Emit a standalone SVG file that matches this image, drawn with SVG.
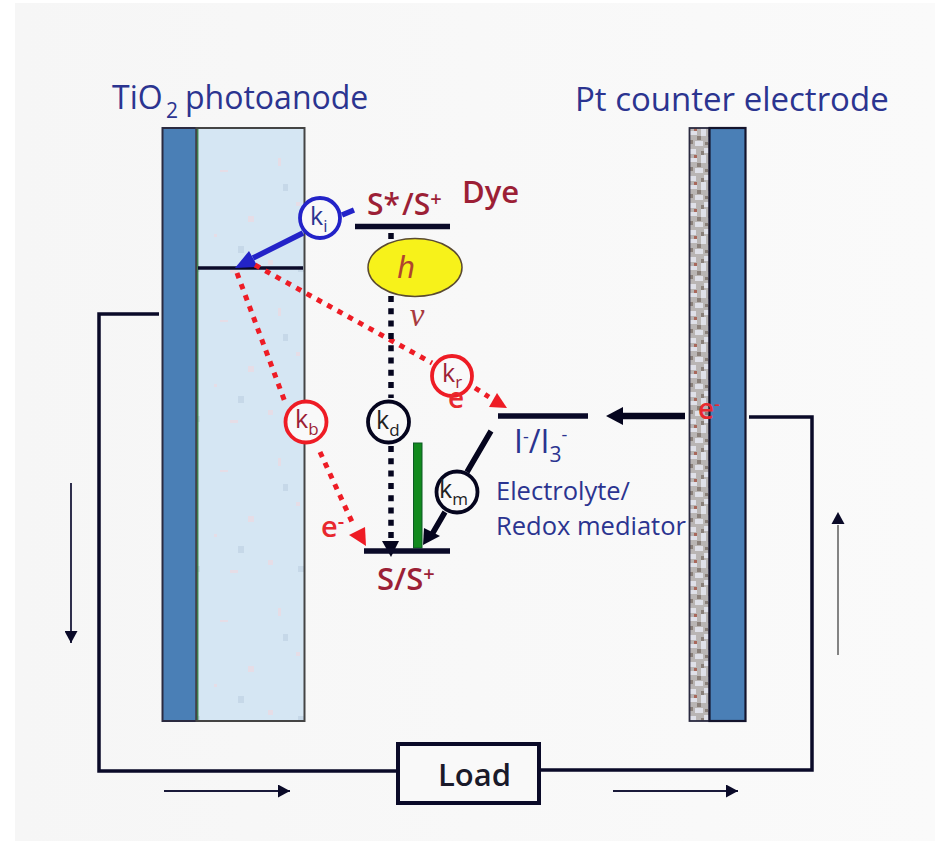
<svg xmlns="http://www.w3.org/2000/svg" width="935" height="842" viewBox="0 0 935 842">
<style>
text{font-family:"Open Sans","Noto Sans","Liberation Sans",sans-serif;font-weight:600}
.blue{fill:#2b3490}.dred{fill:#9c1f36}.red{fill:#e8282e}
.h{font-size:32px;font-weight:500}.lbl{font-size:30px}
.k{font-size:25px;font-weight:400}.sub{font-size:17px}
.bar{stroke:#0a0a28;stroke-width:5.500;fill:none}
.wire{stroke:#0a0a28;stroke-width:3.500;fill:none}
.thin{stroke:#1a1a3a;stroke-width:1.800;fill:none}
.reddot{stroke:#ee1c25;stroke-width:5;stroke-dasharray:5.500 6.300;fill:none}
.blackdot{stroke:#05051e;stroke-width:5.500;stroke-dasharray:6 6.300;fill:none}
.circle{fill:#f9f9f9;stroke-width:3.800}
</style>
<defs>
<linearGradient id="bg"><stop offset="0" stop-color="#f6f6f6"/><stop offset="1" stop-color="#fafafa"/></linearGradient>
<marker id="ar" markerWidth="13" markerHeight="13" refX="12" refY="6.500" orient="auto" markerUnits="userSpaceOnUse"><path d="M0,0L12,6.500L0,13z" fill="#0a0a28"/></marker>
<pattern id="grain" width="27" height="27" patternUnits="userSpaceOnUse" patternTransform="translate(689 128)">
<rect width="27" height="27" fill="#b9b5b4"/>
<path d="M0,3h8v4h-8zM12,0h5v8h-5zM6,13h8v5h-8zM19,9h8v6h-8zM1,21h6v5h-6zM15,20h8v5h-8z" fill="#dfe0e8"/>
<path d="M8,8h4v4h-4zM0,12h4v4h-4zM21,3h4v4h-4zM12,23h3v4h-3zM16,14h3v3h-3z" fill="#8a807a"/>
<path d="M24,18h3v3h-3zM5,0h3v3h-3z" fill="#a8685c"/>
</pattern>
<pattern id="specks" width="104" height="150" patternUnits="userSpaceOnUse">
<rect width="104" height="150" fill="#d5e6f3"/>
<path d="M12,20h8v2h-8zM70,8h3v8h-3zM40,66h6v6h-6zM88,52h4v4h-4zM22,120h8v3h-8zM60,110h5v5h-5zM6,84h3v3h-3z" fill="#e6dde6"/>
<path d="M75,34h5v7h-5zM30,96h6v7h-6zM90,116h6v6h-6z" fill="#c6d8e8"/>
</pattern>
</defs>
<rect width="935" height="842" fill="#fff"/>
<rect x="15" y="3" width="920" height="838" fill="url(#bg)"/>
<g id="photoanode">
<rect x="162.500" y="128" width="34" height="593" fill="#4a7fb6" stroke="#2a2a40" stroke-width="2"/>
<rect x="196.500" y="128" width="108" height="593" fill="url(#specks)" stroke="#444" stroke-width="2"/>
<path d="M197.800,129V720" stroke="#2c7a3c" stroke-width="1.200"/>
<path class="bar" style="stroke-width:3.500" d="M198,268H303"/>
<text class="h blue" x="112" y="109">TiO<tspan x="166" font-size="21" dy="9">2</tspan><tspan x="185" dy="-9">photoanode</tspan></text>
</g>
<g id="counter-electrode">
<rect x="689.500" y="128" width="20" height="593" fill="url(#grain)" stroke="#2a2a40" stroke-width="1.800"/>
<rect x="709.500" y="128" width="36" height="593" fill="#4a7fb6" stroke="#14142c" stroke-width="2.200"/>
<text class="h blue" x="575" y="111" style="font-size:33px">Pt counter electrode</text>
</g>
<g id="connectors">
<path class="wire" d="M159,314H99V771H398"/>
<path class="wire" d="M539,770H812V417H749"/>
<path class="thin" marker-end="url(#ar)" d="M71,483V643"/>
<path class="thin" marker-end="url(#ar)" d="M164,791H290"/>
<path class="thin" marker-end="url(#ar)" d="M613,791H738"/>
<path class="thin" style="stroke:#777" d="M838,655V525"/>
<path d="M831.500,524L838,512L844.500,524z" fill="#0a0a28"/>
<path d="M354,210L342,215M303,233L253,258" stroke="#2323c8" stroke-width="5.500" fill="none"/>
<path d="M235,268L249,251L258,267z" fill="#2323c8"/>
<path class="reddot" d="M237,273L285,402M320,452L353,524"/>
<path d="M366,546L349,535L365,527z" fill="#ee1c25"/>
<path class="reddot" d="M255,265L432,363M475,388L489,397"/>
<path d="M507,408L489,407L497,393z" fill="#ee1c25"/>
<path class="blackdot" d="M391,233V239M391,296V398M391,446V538"/>
<path d="M382,541H399L391,557z" fill="#05051e"/>
<rect x="413.500" y="443" width="8.500" height="105" fill="#128a1e" stroke="#0c5a24" stroke-width="1"/>
<path d="M491,431L467,472M445,512L431,536" stroke="#05051e" stroke-width="5.500" fill="none"/>
<path d="M423,545L424,528L440,536z" fill="#05051e"/>
<path d="M685,416H622" stroke="#05051e" stroke-width="6.500" fill="none"/>
<path d="M606,416L623,407V425z" fill="#05051e"/>
</g>
<g id="electron-counter"><text class="red" x="698" y="419" font-size="28">e<tspan font-size="17" dy="-9">-</tspan></text></g>
<g id="dye-excited">
<path class="bar" d="M355,226.500H450"/>
<text class="lbl dred" x="367" y="215">S*<tspan dx="2">/</tspan>S<tspan font-size="20" dy="-9">+</tspan></text>
<text class="dred" x="462" y="203" font-size="31">Dye</text>
</g>
<g id="photon">
<ellipse cx="415" cy="267.500" rx="47" ry="29" fill="#f7f21a" stroke="#5a4a30" stroke-width="1.500"/>
<text x="406" y="278" font-size="31" font-style="italic" fill="#b0452f" text-anchor="middle" style="font-family:'Liberation Sans',sans-serif;font-weight:400">h</text>
<text x="417" y="326" font-size="33" font-style="italic" fill="#a83a3e" text-anchor="middle" style="font-family:'Liberation Serif',serif;font-weight:400">ν</text>
</g>
<g id="ki"><circle class="circle" cx="320" cy="218" r="20" stroke="#2323c8"/><text class="k blue" x="310" y="225">k<tspan class="sub" dy="7">i</tspan></text></g>
<g id="kr"><circle class="circle" cx="452" cy="376" r="20" stroke="#ee1c25"/><text class="k dred" x="442" y="382">k<tspan class="sub" dy="6">r</tspan></text><text class="red" x="448" y="408" font-size="28">e</text></g>
<g id="kb"><circle class="circle" cx="306" cy="422" r="20.500" stroke="#ee1c25"/><text class="k dred" x="295" y="428">k<tspan class="sub" dy="7">b</tspan></text></g>
<g id="kd"><circle class="circle" cx="388.500" cy="422" r="20.500" stroke="#05051e"/><text class="k" fill="#222" x="376" y="429">k<tspan class="sub" dy="7">d</tspan></text></g>
<g id="km"><circle class="circle" cx="457" cy="492" r="20.500" stroke="#05051e"/><text class="k" fill="#222" x="439" y="498">k<tspan class="sub" dy="7">m</tspan></text></g>
<g id="electron-b"><text class="red" x="321" y="537" font-size="29">e<tspan font-size="20" dy="-9">-</tspan></text></g>
<g id="ground">
<path class="bar" d="M364,551H450"/>
<text class="dred" x="377" y="590" font-size="31">S/S<tspan font-size="20" dy="-9">+</tspan></text>
</g>
<g id="redox">
<path class="bar" d="M498,416H588"/>
<text class="blue" x="514" y="453" font-size="32" style="font-weight:500">I<tspan font-size="18" dy="-10">-</tspan><tspan dy="10">/I</tspan><tspan font-size="21" dy="9">3</tspan><tspan font-size="18" dy="-21">-</tspan></text>
<text x="496" y="500" font-size="25.500" class="blue" style="font-weight:500">Electrolyte/</text>
<text x="496" y="535" font-size="25.500" class="blue" style="font-weight:500">Redox mediator</text>
</g>
<g id="load">
<rect x="398" y="744" width="141" height="59" fill="#f9f9f9" stroke="#0a0a28" stroke-width="4"/>
<text x="474.500" y="786" font-size="31" fill="#1a1a2a" text-anchor="middle">Load</text>
</g>
</svg>
